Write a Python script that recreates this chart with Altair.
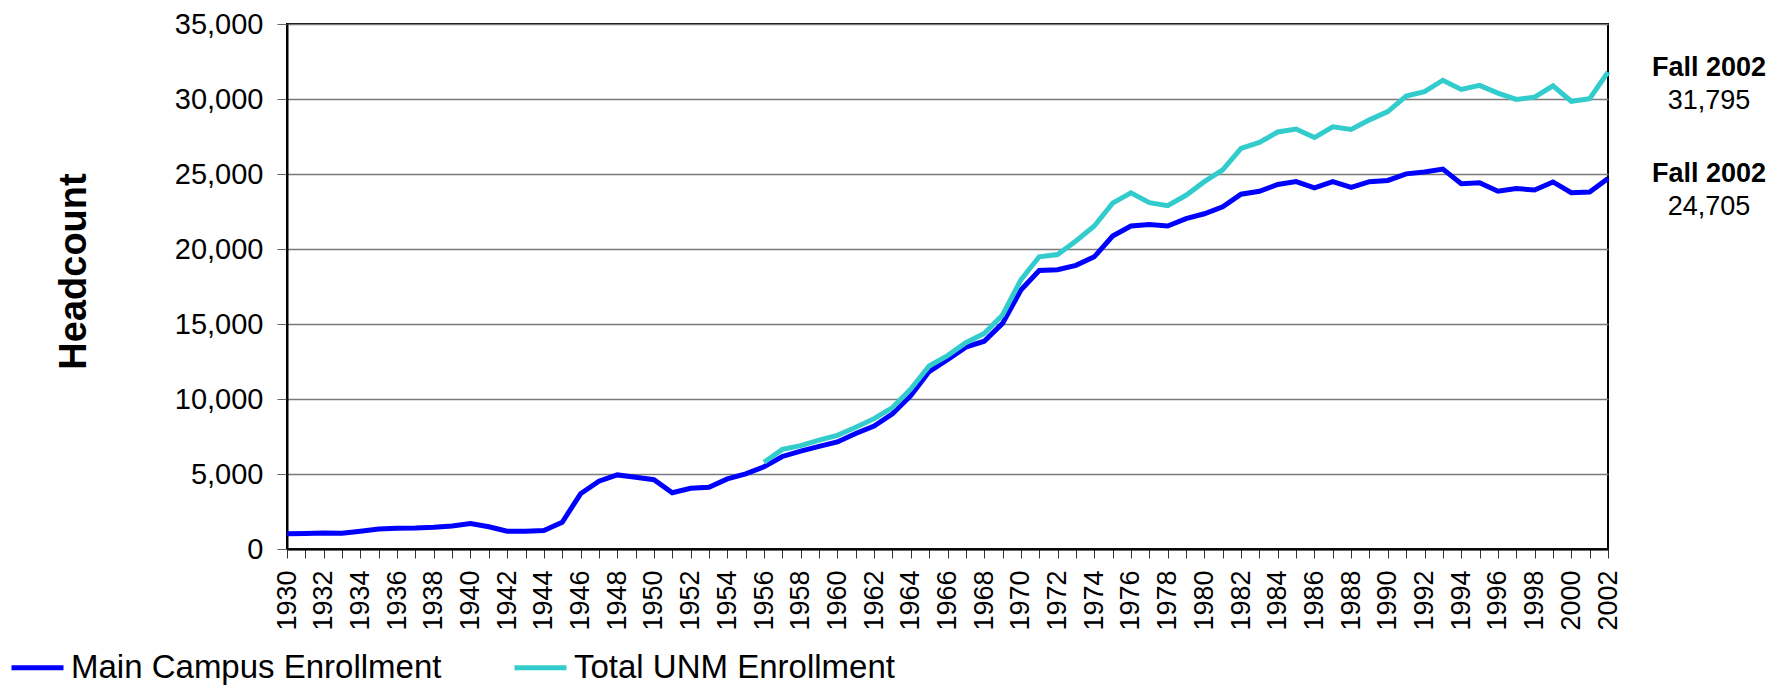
import altair as alt
import pandas as pd

# ---- data ----
series_names = ["Main Campus Enrollment", "Total UNM Enrollment"]
series_colors = ["#0000FF", "#33CCCC"]

main_years = list(range(1930, 2003))
main_values = [
    1020, 1040, 1060, 1050, 1185, 1330, 1380, 1400, 1450, 1530,   # 1930-1939
    1700, 1480, 1185, 1185, 1230, 1780, 3680, 4520, 4940, 4790,   # 1940-1949
    4620, 3750, 4050, 4120, 4670, 5010, 5480, 6170, 6520, 6840,   # 1950-1959
    7140, 7700, 8200, 9010, 10220, 11830, 12620, 13460, 13850, 15040,  # 1960-1969
    17260, 18570, 18620, 18910, 19480, 20860, 21530, 21630, 21530, 22020,  # 1970-1979
    22350, 22810, 23650, 23850, 24300, 24490, 24080, 24490, 24100, 24490,  # 1980-1989
    24570, 25010, 25140, 25330, 24350, 24420, 23850, 24030, 23930, 24470,  # 1990-1999
    23750, 23800, 24705,  # 2000-2002
]

total_years = list(range(1956, 2003))
total_values = [
    5780, 6640, 6890, 7260,  # 1956-1959
    7580, 8120, 8690, 9430, 10670, 12200, 12890, 13750, 14370, 15600,  # 1960-1969
    17950, 19480, 19630, 20540, 21530, 23060, 23750, 23090, 22890, 23580,  # 1970-1979
    24490, 25280, 26710, 27100, 27800, 28000, 27430, 28150, 27970, 28610,  # 1980-1989
    29160, 30190, 30490, 31250, 30640, 30910, 30390, 29970, 30120, 30880,  # 1990-1999
    29850, 30020, 31795,  # 2000-2002
]

y_ticks = list(range(0, 35001, 5000))
x_ticks = list(range(1930, 2003))

# ---- tables ----
df = pd.concat([
    pd.DataFrame({"year": main_years, "value": main_values, "series": series_names[0]}),
    pd.DataFrame({"year": total_years, "value": total_values, "series": series_names[1]}),
], ignore_index=True)

ann = pd.DataFrame({
    "year": [main_years[-1], total_years[-1]],
    "value": [main_values[-1], total_values[-1]],
    "series": series_names,
    "label": ["Fall 2002", "Fall 2002"],
})

FONT = "Liberation Sans"

x_enc = alt.X(
    "year:Q",
    scale=alt.Scale(domain=[1930, 2002], nice=False, zero=False),
    axis=alt.Axis(
        values=x_ticks,
        format="d",
        labelExpr="datum.value % 2 == 0 ? datum.label : ''",
        labelAngle=270,
        labelFontSize=27,
        labelPadding=12,
        labelColor="black",
        labelFont=FONT,
        tickSize=9,
        tickColor="#333333",
        tickWidth=1,
        domainColor="black",
        domainWidth=2,
        grid=False,
        title=None,
        labelOverlap=False,
    ),
)

y_enc = alt.Y(
    "value:Q",
    scale=alt.Scale(domain=[0, 35000], nice=False),
    axis=alt.Axis(
        values=y_ticks,
        format=",d",
        labelFontSize=29,
        labelPadding=14,
        labelColor="black",
        labelFont=FONT,
        tickSize=10,
        tickColor="#666666",
        tickWidth=1,
        domainColor="black",
        domainWidth=2,
        grid=True,
        gridColor="#7a7a7a",
        gridWidth=1.3,
        title="Headcount",
        titleFont=FONT,
        titleFontSize=38,
        titleFontWeight="bold",
        titleColor="black",
        titleAngle=270,
        titleAlign="center",
        titleBaseline="alphabetic",
        titleX=-202,
        titleY=247,
    ),
)

lines = alt.Chart(df).mark_line(strokeWidth=5, strokeJoin="miter").encode(
    x=x_enc,
    y=y_enc,
    color=alt.Color(
        "series:N",
        scale=alt.Scale(domain=series_names, range=series_colors),
        legend=alt.Legend(
            title=None,
            orient="none",
            direction="horizontal",
            legendX=-278,
            legendY=615,
            symbolType="stroke",
            symbolSize=2704,
            symbolStrokeWidth=5,
            labelFont=FONT,
            labelFontSize=33,
            labelColor="black",
            labelOffset=5,
            labelLimit=800,
            columnPadding=62,
        ),
    ),
)

bold_lbl = alt.Chart(ann).mark_text(
    font=FONT, fontSize=27, fontWeight="bold", color="black",
    align="center", baseline="alphabetic", dx=101, dy=4,
).encode(x=x_enc, y=y_enc, text="label:N")

val_lbl = alt.Chart(ann).mark_text(
    font=FONT, fontSize=27, color="black",
    align="center", baseline="alphabetic", dx=101, dy=37,
).encode(x=x_enc, y=y_enc, text=alt.Text("value:Q", format=","))

chart = alt.layer(lines, bold_lbl, val_lbl).properties(
    width=1321,
    height=525,
    padding={"left": 279, "top": 16, "right": 160, "bottom": 137},
    autosize=alt.AutoSizeParams(type="none"),
    background="white",
).configure(font=FONT).configure_view(stroke="black", strokeWidth=2)

chart.save("out.html", embed_options={"renderer": "svg", "actions": False})
